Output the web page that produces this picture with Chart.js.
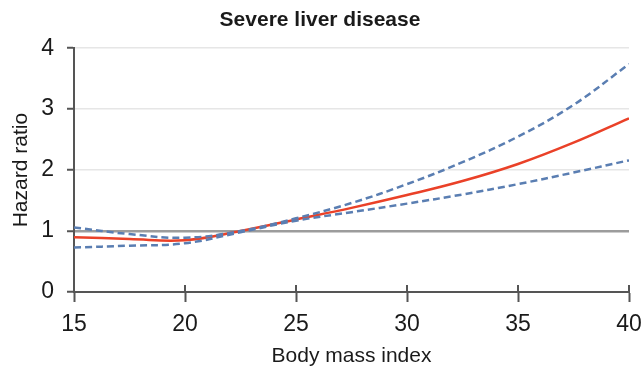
<!DOCTYPE html>
<html>
<head>
<meta charset="utf-8">
<script src="https://cdn.jsdelivr.net/npm/chart.js@4/dist/chart.umd.min.js"></script>
<style>
  html, body { margin: 0; padding: 0; background: #fff; }
  #wrap { width: 644px; height: 369px; }
</style>
</head>
<body>
<div id="wrap"><canvas id="myChart" width="644" height="369"></canvas></div>
<script>
// body mass index and hazard ratio
const bmi = [15, 17.5, 20, 22.5, 25, 27.5, 30, 32.5, 35, 37.5, 40];
const hazard = [0.90, 0.87, 0.85, 1.0, 1.19, 1.38, 1.59, 1.82, 2.10, 2.45, 2.85];
const upperCI = [1.06, 0.95, 0.89, 1.0, 1.21, 1.46, 1.77, 2.13, 2.55, 3.07, 3.74];
const lowerCI = [0.73, 0.76, 0.80, 0.98, 1.17, 1.31, 1.45, 1.60, 1.77, 1.96, 2.16];
const xTicks = [15, 20, 25, 30, 35, 40];
const yTicks = [0, 1, 2, 3, 4];

const toPoints = vals => bmi.map((b, i) => ({ x: b, y: vals[i] }));
const font = 'Liberation Sans';

// small tick marks that cross the x axis upwards
const tickMarks = {
  id: 'tickMarks',
  beforeDatasetsDraw(chart) {
    const { ctx, scales: { x }, chartArea } = chart;
    ctx.save();
    ctx.strokeStyle = '#555';
    ctx.lineWidth = 2;
    xTicks.forEach(v => {
      const px = x.getPixelForValue(v);
      ctx.beginPath();
      ctx.moveTo(px, chartArea.bottom - 7);
      ctx.lineTo(px, chartArea.bottom);
      ctx.stroke();
    });
    ctx.restore();
  }
};

const dashed = {
  borderColor: '#5a7eb2',
  borderWidth: 2.5,
  borderDash: [7, 4],
  pointRadius: 0,
  fill: false,
  tension: 0.4,
  order: 0
};

const ctx = document.getElementById('myChart').getContext('2d');
const chart = new Chart(ctx, {
  type: 'line',
  data: {
    datasets: [
      Object.assign({ label: 'Upper', data: toPoints(upperCI) }, dashed),
      Object.assign({ label: 'Lower', data: toPoints(lowerCI) }, dashed),
      {
        label: 'Hazard ratio',
        data: toPoints(hazard),
        borderColor: '#ea4128',
        borderWidth: 2.5,
        pointRadius: 0,
        fill: false,
        tension: 0.4,
        order: 1
      }
    ]
  },
  options: {
    responsive: false,
    animation: false,
    layout: { padding: { top: 0, left: 0, right: 4, bottom: 0 } },
    plugins: {
      legend: { display: false },
      tooltip: { enabled: false },
      title: {
        display: true,
        text: 'Severe liver disease',
        color: '#1a1a1a',
        font: { family: font, size: 21, weight: 'bold', lineHeight: 1.2 },
        padding: { top: 8, bottom: 15 }
      }
    },
    scales: {
      x: {
        type: 'linear',
        min: 15,
        max: 40,
        afterFit: s => { s.height = 77; s.paddingLeft = 0; s.paddingRight = 15; },
        afterBuildTicks: s => { s.ticks = xTicks.map(v => ({ value: v })); },
        border: { color: '#555', width: 2 },
        grid: { drawOnChartArea: false, tickLength: 10, tickColor: '#555', tickWidth: 2 },
        ticks: { color: '#1a1a1a', font: { family: font, size: 23 }, padding: 9, maxRotation: 0 },
        title: {
          display: true,
          text: 'Body mass index',
          color: '#1a1a1a',
          font: { family: font, size: 21 },
          padding: { top: 0, bottom: 0 }
        }
      },
      y: {
        min: 0,
        max: 4,
        afterFit: s => { s.width = 74; },
        afterBuildTicks: s => { s.ticks = yTicks.map(v => ({ value: v })); },
        border: { color: '#555', width: 2 },
        grid: {
          color: c => c.tick.value === 1 ? '#9c9c9c' : (c.tick.value === 0 ? 'rgba(0,0,0,0)' : '#e6e6e6'),
          lineWidth: c => c.tick.value === 1 ? 2.5 : 1.5,
          tickLength: 7,
          tickColor: '#555',
          tickWidth: 2
        },
        ticks: { color: '#1a1a1a', font: { family: font, size: 23 }, padding: 13 },
        title: {
          display: true,
          text: 'Hazard ratio',
          color: '#1a1a1a',
          font: { family: font, size: 21 },
          padding: { top: 9, bottom: 0 }
        }
      }
    }
  },
  plugins: [tickMarks]
});
</script>
</body>
</html>
